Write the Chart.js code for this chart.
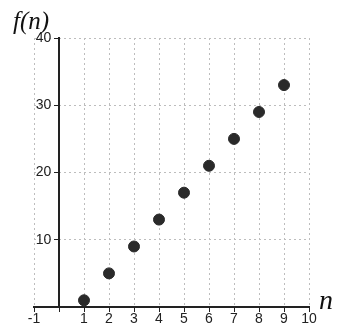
<!DOCTYPE html>
<html>
<head>
<meta charset="utf-8">
<script src="https://cdn.jsdelivr.net/npm/chart.js@4"></script>
<style>
  html, body { margin: 0; padding: 0; background: #fff; }
  #wrap { width: 344px; height: 327px; }
</style>
</head>
<body>
<div id="wrap"><canvas id="myChart"></canvas></div>
<script>
// f(n)
const nValues = [1, 2, 3, 4, 5, 6, 7, 8, 9];
const fValues = [1, 5, 9, 13, 17, 21, 25, 29, 33];
const xTicks = [-1, 0, 1, 2, 3, 4, 5, 6, 7, 8, 9, 10];
const yTicks = [0, 10, 20, 30, 40];

const ctx = document.getElementById('myChart');

// axis names drawn next to the axes ends
const axisNames = {
  id: 'axisNames',
  afterDraw(chart) {
    const c = chart.ctx;
    const x = chart.scales.x, y = chart.scales.y;
    c.save();
    c.fillStyle = '#111';
    c.textBaseline = 'alphabetic';
    c.textAlign = 'left';
    c.font = 'italic 25px "Liberation Serif"';
    c.fillText('f(n)', x.getPixelForValue(0) - 46, y.getPixelForValue(40) - 9);
    c.font = 'italic 28px "Liberation Serif"';
    c.fillText('n', x.getPixelForValue(10) + 10, y.getPixelForValue(0) + 2);
    c.restore();
  }
};

new Chart(ctx, {
  type: 'scatter',
  data: {
    datasets: [{
      label: 'f(n)',
      data: nValues.map((n, i) => ({ x: n, y: fValues[i] })),
      backgroundColor: '#2a2a2a',
      borderColor: '#2a2a2a',
      pointRadius: 5.5,
      pointHoverRadius: 5.5
    }]
  },
  options: {
    responsive: true,
    maintainAspectRatio: false,
    animation: false,
    layout: {
      padding: { left: 34, right: 35, top: 38, bottom: 20 }
    },
    plugins: {
      legend: { display: false },
      tooltip: { enabled: false }
    },
    scales: {
      x: {
        type: 'linear',
        position: { y: 0 },
        min: -1,
        max: 10,
        afterBuildTicks: s => { s.ticks = xTicks.map(v => ({ value: v })); },
        ticks: {
          padding: 0,
          color: '#222',
          font: { family: 'Liberation Sans', size: 14 },
          callback: v => (v === 0 ? '' : String(v))
        },
        grid: {
          color: c => (c.tick && c.tick.value === 0 ? 'rgba(0,0,0,0)' : '#bdbdbd'),
          tickColor: '#222',
          tickLength: 4,
          lineWidth: 1
        },
        border: { color: '#222', width: 2, dash: [2, 3] }
      },
      y: {
        type: 'linear',
        position: { x: 0 },
        min: 0,
        max: 40,
        afterBuildTicks: s => { s.ticks = yTicks.map(v => ({ value: v })); },
        ticks: {
          color: '#222',
          font: { family: 'Liberation Sans', size: 14 },
          // labels sit right-aligned on a value-positioned axis; spaces keep them off the line
          callback: v => (v === 0 ? '' : v + '  ')
        },
        grid: {
          color: c => (c.tick && c.tick.value === 0 ? 'rgba(0,0,0,0)' : '#bdbdbd'),
          tickColor: c => (c.tick && c.tick.value === 0 ? 'rgba(0,0,0,0)' : '#222'),
          tickLength: 4,
          lineWidth: 1
        },
        border: { color: '#222', width: 2, dash: [2, 3] }
      }
    }
  },
  plugins: [axisNames]
});
</script>
</body>
</html>
